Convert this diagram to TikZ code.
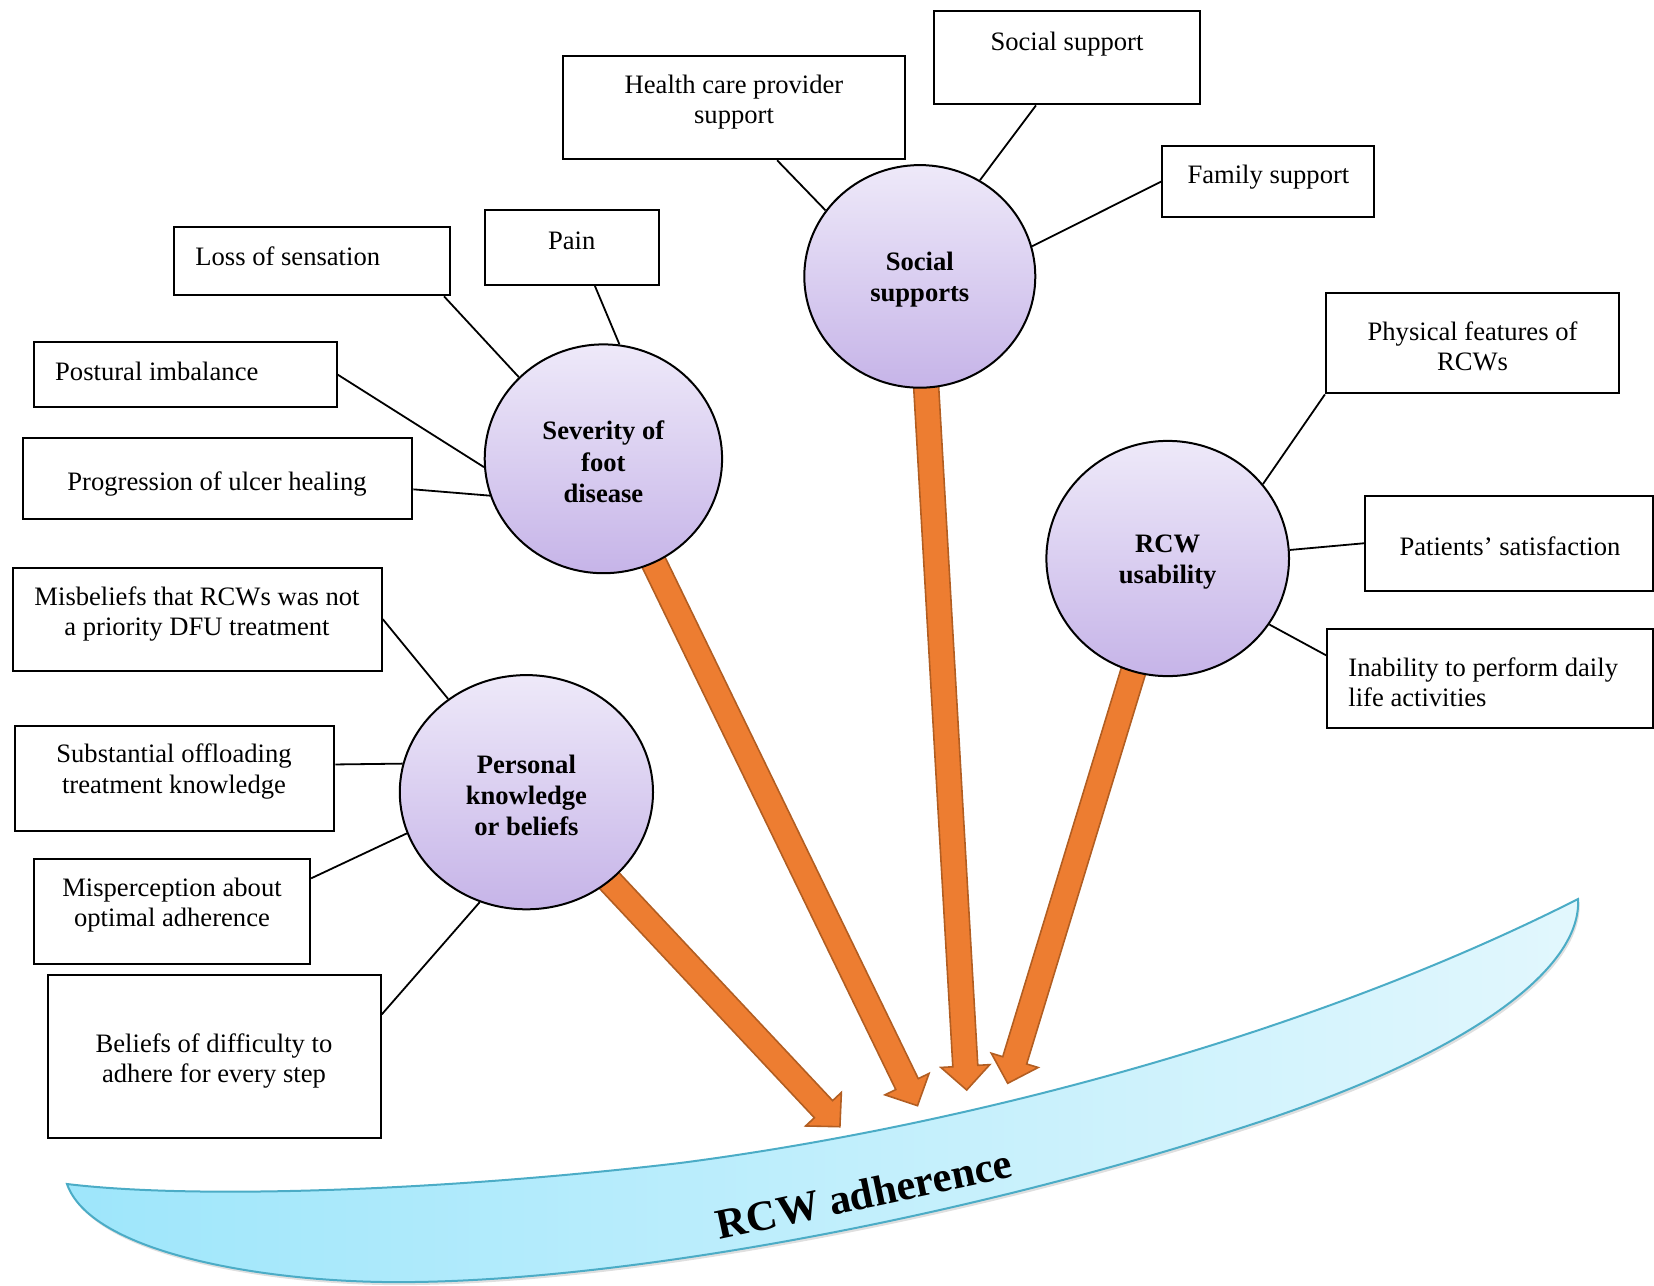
\documentclass[tikz,border=0pt]{standalone}
\usepackage{fontspec}
\setmainfont{Liberation Serif}
\usetikzlibrary{calc,fit,shapes.geometric,shadows}

\definecolor{arrowfill}{RGB}{237,125,49}
\definecolor{arrowedge}{RGB}{178,94,34}
\definecolor{bandedge}{RGB}{75,172,198}
\definecolor{bandleft}{RGB}{158,230,251}
\definecolor{bandright}{RGB}{226,247,253}
\definecolor{bubtop}{RGB}{238,233,249}
\definecolor{bubbottom}{RGB}{198,180,232}

% broad block arrow from #1 to the tip #2
\newcommand\blockarrow[2]{%
  \path ($(#2)!12pt!(#1)$) coordinate (headbase);
  \draw[bigarrow] ($(#1)!6.25pt!90:(#2)$) -- ($(headbase)!6.25pt!90:(#2)$)
    -- ($(headbase)!12.25pt!90:(#2)$) -- (#2)
    -- ($(headbase)!12.25pt!-90:(#2)$) -- ($(headbase)!6.25pt!-90:(#2)$)
    -- ($(#1)!6.25pt!-90:(#2)$) -- cycle;}
% strut that lowers the text block of a theme slightly
\newcommand\themestrut{\rule{0pt}{12.5pt}}

\begin{document}
\begin{tikzpicture}[x=0.5pt,y=-0.5pt,
  factorbox/.style={draw, line width=1pt, fill=white, inner sep=0pt},
  boxtext/.style={font=\fontsize{13.3}{15.2}\selectfont, align=center, inner sep=0pt},
  bubble/.style={ellipse, draw, line width=1pt, top color=bubtop, bottom color=bubbottom,
    font=\bfseries\fontsize{13.3}{15.6}\selectfont, align=center, inner sep=0pt},
  link/.style={line width=0.9pt},
  bigarrow/.style={fill=arrowfill, draw=arrowedge, line width=0.8pt, line join=miter},
  band/.style={draw=bandedge, line width=1pt, left color=bandleft, right color=bandright}]
\useasboundingbox (0,0) rectangle (1654,1285);

% curved band at the bottom
\path[band, drop shadow={opacity=0.25, shadow xshift=0.8pt, shadow yshift=-1.5pt}]
  (67,1184) .. controls (200,1200) and (450,1190) .. (680,1163)
  .. controls (950,1128) and (1300,1040) .. (1578,899)
  .. controls (1582,965) and (1480,1050) .. (1250,1125)
  .. controls (950,1223) and (600,1285) .. (383,1282)
  .. controls (250,1280) and (90,1250) .. (67,1184) -- cycle;
\node[rotate=12, font=\bfseries\fontsize{21.3}{24}\selectfont, inner sep=0pt] (adh) at (864,1194) {RCW adherence};

% centres of the four themes and the arrow tips
\coordinate (c-soc) at (919.8,276.4);
\coordinate (c-sev) at (603.4,458.8);
\coordinate (c-usa) at (1167.7,558.5);
\coordinate (c-per) at (526.4,792.2);
\coordinate (tip-per) at (839.9,1126.7);
\coordinate (tip-sev) at (917.5,1105.7);
\coordinate (tip-soc) at (966.7,1090);
\coordinate (tip-usa) at (1007.7,1083.3);

\blockarrow{c-per}{tip-per}
\blockarrow{c-sev}{tip-sev}
\blockarrow{c-soc}{tip-soc}
\blockarrow{c-usa}{tip-usa}

% themes
\node[bubble, minimum width=115.5pt, minimum height=111.3pt] (soc) at (c-soc) {\themestrut Social\\supports};
\node[bubble, minimum width=118.7pt, minimum height=114.4pt] (sev) at (c-sev) {\themestrut Severity of\\foot\\disease};
\node[bubble, minimum width=121.3pt, minimum height=117.6pt] (usa) at (c-usa) {\themestrut RCW\\usability};
\node[bubble, minimum width=126.6pt, minimum height=117.1pt] (per) at (c-per) {\themestrut Personal\\knowledge\\or beliefs};

% factor boxes
\node[factorbox, fit={(933.5,10.5) (1200.4,104.4)}] (ss) {};
\node[boxtext] (ss-t) at (1067,44) {Social support};
\node[factorbox, fit={(563.3,55.9) (905,159.3)}] (hc) {};
\node[boxtext] (hc-t) at (734,102.2) {Health care provider\\support};
\node[factorbox, fit={(1162.4,145.6) (1374.4,217.3)}] (fam) {};
\node[boxtext] (fam-t) at (1268.4,177) {Family support};
\node[factorbox, fit={(485.2,209.9) (659.3,284.8)}] (pain) {};
\node[boxtext] (pain-t) at (571.7,240.4) {Pain};
\node[factorbox, fit={(174,226.8) (450.4,295.3)}] (loss) {};
\node[boxtext, anchor=west, align=left] (loss-t) at (195,256.7) {Loss of sensation};
\node[factorbox, fit={(33.8,341.8) (336.5,407.2)}] (post) {};
\node[boxtext, anchor=west, align=left] (post-t) at (54.8,371.5) {Postural imbalance};
\node[factorbox, fit={(23.2,437.7) (412.4,519)}] (prog) {};
\node[boxtext] (prog-t) at (217,483.5) {Progression of ulcer healing};
\node[factorbox, fit={(12.7,567.5) (381.8,670.9)}] (mis) {};
\node[boxtext] (mis-t) at (197,614) {Misbeliefs that RCWs was not\\a priority DFU treatment};
\node[factorbox, fit={(14.8,725.7) (334.4,831.2)}] (sub) {};
\node[boxtext] (sub-t) at (174,771.6) {Substantial offloading\\treatment knowledge};
\node[factorbox, fit={(33.8,858.6) (310.1,964.1)}] (misp) {};
\node[boxtext] (misp-t) at (172,905) {Misperception about\\optimal adherence};
\node[factorbox, fit={(47.5,974.6) (380.8,1138.1)}] (bel) {};
\node[boxtext] (bel-t) at (214,1061) {Beliefs of difficulty to\\adhere for every step};
\node[factorbox, fit={(1325.9,293.2) (1619.1,393.4)}] (phys) {};
\node[boxtext] (phys-t) at (1472.5,346.5) {Physical features of\\RCWs};
\node[factorbox, fit={(1365,495.8) (1652.5,590.7)}] (pat) {};
\node[boxtext] (pat-t) at (1510,546.5) {Patients’ satisfaction};
\node[factorbox, fit={(1327,628.7) (1652.5,727.8)}] (inab) {};
\node[boxtext, anchor=west, align=left] (inab-t) at (1348,682) {Inability to perform daily\\life activities};

% connectors from factors to themes
\draw[link] ($(ss.south)+(-31,0)$) -- (soc.58.7);
\draw[link] ($(hc.south)+(43,0)$) -- (soc.145.1);
\draw[link] (fam.west) -- (soc.15.7);
\draw[link] ($(pain.south)+(22.6,0)$) -- (sev.82.1);
\draw[link] ($(loss.south east)+(-7.4,0)$) -- (sev.136.8);
\draw[link] (post.east) -- (sev.184.1);
\draw[link] ($(prog.east)+(0,11)$) -- (sev.198.6);
\draw[link] (mis.east) -- (per.130.1);
\draw[link] ($(sub.east)+(0,-14)$) -- (per.167.6);
\draw[link] ($(misp.east)+(0,-33)$) -- (per.199);
\draw[link] ($(bel.east)+(0,-42)$) -- (per.247);
\draw[link] (phys.south west) -- (usa.38);
\draw[link] (pat.west) -- (usa.4.7);
\draw[link] ($(inab.west)+(0,-23)$) -- (usa.327.2);
\end{tikzpicture}
\end{document}
